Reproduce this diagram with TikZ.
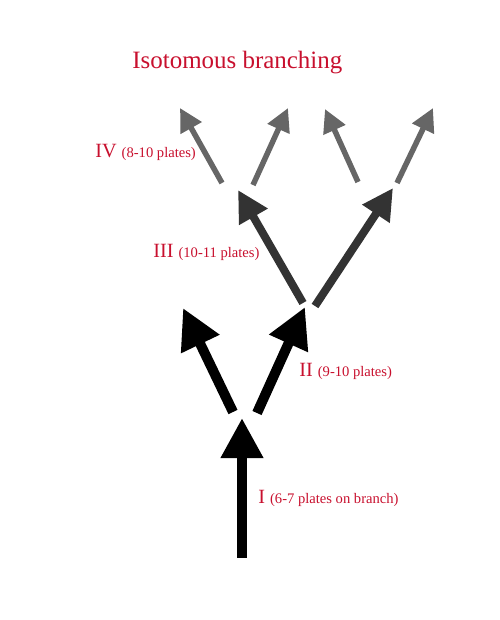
\documentclass[tikz,border=0pt]{standalone}
\usepackage{fontspec}
\setmainfont{Liberation Serif}
\usepackage{tikz}
\usetikzlibrary{arrows.meta}
\usepackage{tkz-euclide}
\definecolor{labelred}{RGB}{200,16,46}
\definecolor{stagethree}{RGB}{51,51,51}
\definecolor{stagefour}{RGB}{102,102,102}
\newcommand{\stagelabel}[2]{\fontsize{11.5}{13}\selectfont #1 \fontsize{8.3}{10}\selectfont(#2)}

\begin{document}
\begin{tikzpicture}[
    stage one/.style={black, line width=0.2cm, line cap=butt, -{Triangle[width=0.8cm, length=0.8cm]}},
    stage three/.style={stagethree, line width=0.16cm, line cap=butt, -{Triangle[width=0.62cm, length=0.62cm]}},
    stage four/.style={stagefour, line width=0.11cm, line cap=butt, -{Triangle[width=0.46cm, length=0.46cm]}},
    stage text/.style={labelred, anchor=base west, inner sep=0pt}]
                \useasboundingbox (0,0) rectangle (10,12.4);
                \tkzDefPoints{4.84/1.24/A, 4.84/4.04/B}
                \tkzDefPoints{4.66/4.16/C, 3.66/6.24/D, 5.14/4.14/E, 6.10/6.26/F}
                \tkzDefPoints{6.06/6.34/G, 4.76/8.60/H, 6.30/6.28/J, 7.86/8.64/K}
                \tkzDefPoints{4.44/8.74/L, 3.60/10.24/M, 5.06/8.70/N, 5.76/10.24/P}
                \tkzDefPoints{7.16/8.76/Q, 6.50/10.22/R, 7.94/8.74/S, 8.66/10.24/T}
                \tkzDrawSegments[stage one](A,B C,D E,F)
                \tkzDrawSegments[stage three](G,H J,K)
                \tkzDrawSegments[stage four](L,M N,P Q,R S,T)
                \node[stage text, font=\fontsize{14.2}{17}\selectfont] (title) at (2.64,11.02) {Isotomous branching};
                \node[stage text] (labIV) at (1.90,9.26) {\stagelabel{IV}{8-10 plates}};
                \node[stage text] (labIII) at (3.06,7.24) {\stagelabel{III}{10-11 plates}};
                \node[stage text] (labII) at (5.98,4.86) {\stagelabel{II}{9-10 plates}};
                \node[stage text] (labI) at (5.16,2.32) {\stagelabel{I}{6-7 plates on branch}};
            \end{tikzpicture}
\end{document}
